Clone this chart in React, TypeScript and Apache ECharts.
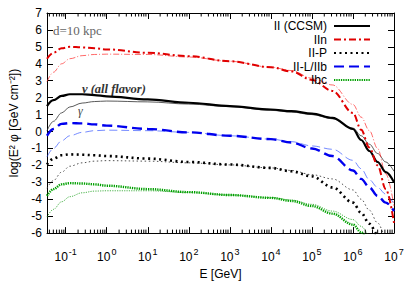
import React, { useEffect, useRef } from "react";
import * as echarts from "echarts";

// log10(E/GeV) sample grid
const LG = [-1.456, -1.3, -1.1, -0.9, -0.6, -0.3, 0, 1, 2, 3, 4, 4.5, 5, 5.5, 6, 6.2, 6.4, 6.6, 6.8, 7];

// neutrino (thick) and gamma (thin) curves, log(E^2 phi)
const CCSM_NU = [1.5, 1.85, 2.1, 2.2, 2.2, 2.15, 2.08, 1.9, 1.7, 1.5, 1.3, 1.2, 1.06, 0.8, 0.15, -0.5, -1.15, -1.8, -2.4, -3.0];
const CCSM_GA = [0.05, 0.6, 1.1, 1.45, 1.68, 1.77, 1.8, 1.75, 1.62, 1.47, 1.25, 1.15, 1.0, 0.75, 0.2, -0.25, -0.75, -1.3, -1.8, -2.35];
const IIN_NU = [4.3, 4.65, 4.92, 5.0, 4.97, 4.92, 4.85, 4.65, 4.45, 4.15, 3.8, 3.55, 3.05, 2.4, 1.1, 0.1, -0.95, -2.0, -3.4, -5.4];
const IIN_GA = [2.95, 3.5, 4.0, 4.3, 4.48, 4.55, 4.57, 4.55, 4.4, 4.15, 3.8, 3.6, 3.15, 2.75, 1.6, 0.85, 0.05, -1.0, -2.5, -4.4];
const IIP_NU = [-1.95, -1.6, -1.4, -1.35, -1.37, -1.4, -1.45, -1.6, -1.8, -1.95, -2.15, -2.35, -2.65, -3.3, -4.2, -4.8, -5.45, -6.1, -6.8, -7.5];
const IIP_GA = [-3.35, -2.9, -2.4, -2.05, -1.85, -1.75, -1.72, -1.75, -1.85, -1.97, -2.15, -2.3, -2.55, -2.8, -3.45, -4.0, -4.65, -5.4, -6.2, -7.0];
const IIL_NU = [-0.25, 0.15, 0.45, 0.5, 0.48, 0.42, 0.35, 0.15, -0.05, -0.25, -0.45, -0.65, -1.0, -1.45, -2.3, -2.8, -3.3, -3.8, -4.2, -4.7];
const IIL_GA = [-1.5, -1.0, -0.55, -0.25, -0.05, 0.05, 0.08, 0.05, -0.05, -0.25, -0.45, -0.6, -0.85, -1.05, -1.7, -2.2, -2.85, -3.3, -3.7, -4.3];
const IBC_NU = [-3.8, -3.4, -3.12, -3.05, -3.07, -3.12, -3.2, -3.4, -3.58, -3.75, -3.92, -4.1, -4.4, -4.85, -5.5, -5.95, -6.5, -7.0, -7.5, -8.0];
const IBC_GA = [-5.05, -4.6, -4.15, -3.85, -3.62, -3.52, -3.5, -3.5, -3.6, -3.75, -3.9, -4.05, -4.3, -4.7, -5.2, -5.6, -6.1, -6.6, -7.1, -7.6];

const LEGEND_NAMES = ["II (CCSM)", "IIn", "II-P", "II-L/IIb", "Ibc"];

const X_MIN = -1.456;
const X_MAX = 7;
const Y_MIN = -6;
const Y_MAX = 7;

// log-spaced minor tick positions (2..9 x 10^n)
const MINOR_TICKS: number[] = [];
for (let d = -2; d <= 6; d++) {
  for (let k = 2; k <= 9; k++) {
    const v = d + Math.log10(k);
    if (v > X_MIN && v < X_MAX) MINOR_TICKS.push(v);
  }
}

const zip = (xs: number[], ys: number[]) => xs.map((x, i) => [x, ys[i]]);

const FONT = "Liberation Sans";

export default function App() {
  const ref = useRef<HTMLDivElement>(null);
  useEffect(() => {
    if (!ref.current) return;
    document.body.style.margin = "0";
    const chart = echarts.init(ref.current, null, { renderer: "svg" });

    const mk = (
      name: string,
      ys: number[],
      color: string,
      width: number,
      type: any,
      opacity = 1,
      z = 3
    ) => ({
      name,
      type: "line",
      data: zip(LG, ys),
      symbol: "none",
      showSymbol: false,
      smooth: 0.35,
      smoothMonotone: "x",
      itemStyle: { color },
      lineStyle: { color, width, type, opacity },
      z,
    });

    const isInt = (v: number) => Math.abs(v - Math.round(v)) < 1e-6;

    const frameAxis = { show: true, onZero: false, lineStyle: { color: "#000", width: 1 } };
    const tick = { show: true, inside: true, length: 6, lineStyle: { color: "#000" } };

    const option: any = {
      animation: false,
      grid: { left: 43, right: 13, top: 13, bottom: 39 },
      xAxis: [
        {
          type: "value",
          min: X_MIN,
          max: X_MAX,
          minInterval: 1,
          maxInterval: 1,
          splitLine: { show: false },
          axisLine: frameAxis,
          axisTick: tick,
          axisLabel: {
            showMinLabel: false,
            margin: 12,
            formatter: (v: number) => (isInt(v) ? `{b|10}{s|${Math.round(v)}}` : ""),
            rich: {
              b: { fontSize: 12, fontFamily: FONT, color: "#000", padding: [6, 0, 0, 0] },
              s: { fontSize: 9, fontFamily: FONT, color: "#000", padding: [0, 0, 4, 1] },
            },
          },
          name: "E [GeV]",
          nameLocation: "middle",
          nameGap: 28,
          nameTextStyle: { fontSize: 12, fontFamily: FONT, color: "#000" },
        },
        {
          type: "value",
          position: "top",
          min: X_MIN,
          max: X_MAX,
          minInterval: 1,
          maxInterval: 1,
          splitLine: { show: false },
          axisLine: frameAxis,
          axisTick: tick,
          axisLabel: { show: false },
        },
      ],
      yAxis: [
        {
          type: "value",
          min: Y_MIN,
          max: Y_MAX,
          interval: 1,
          splitLine: { show: false },
          axisLine: frameAxis,
          axisTick: tick,
          axisLabel: { fontSize: 12, fontFamily: FONT, color: "#000", margin: 5 },
          name: "log(E² φ [GeV cm⁻²])",
          nameLocation: "middle",
          nameGap: 27,
          nameRotate: 90,
          nameTextStyle: { fontSize: 12, fontFamily: FONT, color: "#000" },
        },
        {
          type: "value",
          position: "right",
          min: Y_MIN,
          max: Y_MAX,
          interval: 1,
          splitLine: { show: false },
          axisLine: frameAxis,
          axisTick: tick,
          axisLabel: { show: false },
        },
      ],
      legend: {
        data: LEGEND_NAMES,
        orient: "vertical",
        align: "right",
        right: 36,
        top: 19.5,
        itemWidth: 36,
        itemHeight: 8,
        itemGap: 0.5,
        padding: 0,
        itemStyle: { opacity: 0 },
        textStyle: { fontSize: 12, fontFamily: FONT, color: "#000", lineHeight: 13, padding: [0, 2, 0, 0] },
      },
      graphic: [
        {
          type: "text",
          left: 53,
          top: 24,
          style: { text: "d=10 kpc", font: "13px 'Liberation Serif'", fill: "#666" },
        },
        {
          type: "text",
          left: 82,
          top: 82,
          style: { text: "ν (all flavor)", font: "italic bold 12.5px 'Liberation Serif'", fill: "#333" },
        },
        {
          type: "text",
          left: 78,
          top: 105,
          style: { text: "γ", font: "italic 12px 'Liberation Serif'", fill: "#444" },
        },
      ],
      series: [
        mk("γ II (CCSM)", CCSM_GA, "#333333", 0.9, "solid", 0.9, 2),
        mk("γ IIn", IIN_GA, "#ff2020", 0.9, [6, 2, 1, 2], 0.75, 2),
        mk("γ II-P", IIP_GA, "#333333", 1, [1.5, 2.5], 0.85, 2),
        mk("γ II-L/IIb", IIL_GA, "#3050ff", 0.9, [8, 4], 0.75, 2),
        mk("γ Ibc", IBC_GA, "#20a020", 1, [1.2, 1.2], 0.8, 2),
        mk("II (CCSM)", CCSM_NU, "#000000", 2.2, "solid"),
        mk("IIn", IIN_NU, "#e00000", 2, [7, 3, 2, 3]),
        mk("II-P", IIP_NU, "#000000", 2.6, [2, 3.5]),
        mk("II-L/IIb", IIL_NU, "#0000ee", 2.4, [10, 5]),
        mk("Ibc", IBC_NU, "#00a000", 2.4, [1.3, 1]),
        {
          name: "minor ticks",
          type: "custom",
          silent: true,
          clip: false,
          data: MINOR_TICKS.map((v) => [v, Y_MIN]),
          renderItem: (params: any, api: any) => {
            const x = api.value(0);
            const b = api.coord([x, Y_MIN]);
            const t = api.coord([x, Y_MAX]);
            return {
              type: "group",
              children: [
                { type: "line", shape: { x1: b[0], y1: b[1], x2: b[0], y2: b[1] - 3.5 }, style: { stroke: "#000", lineWidth: 1 } },
                { type: "line", shape: { x1: t[0], y1: t[1], x2: t[0], y2: t[1] + 3.5 }, style: { stroke: "#000", lineWidth: 1 } },
              ],
            };
          },
          z: 5,
        },
      ],
    };
    chart.setOption(option);
    return () => chart.dispose();
  }, []);
  return <div ref={ref} style={{ width: 407, height: 285 }} />;
}
